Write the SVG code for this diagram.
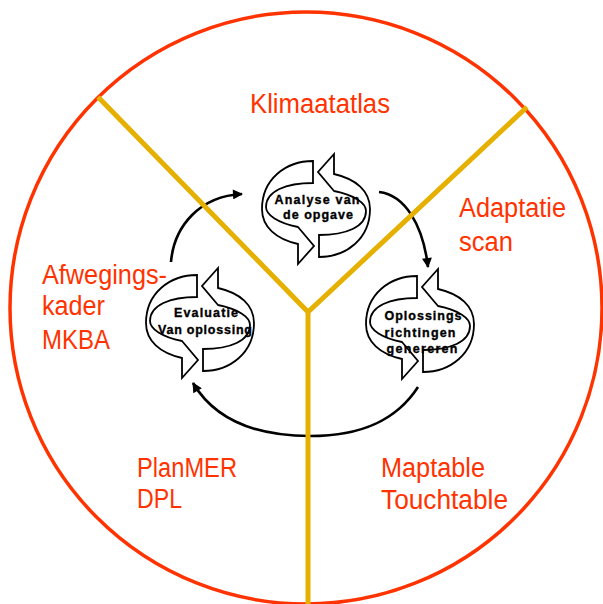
<svg xmlns="http://www.w3.org/2000/svg" width="603" height="604" viewBox="0 0 603 604">
<defs>
<style>
.lbl{font-family:"Liberation Sans",Arial,sans-serif;font-size:27px;fill:#FF3300}
.in{font-family:"Liberation Sans",Arial,sans-serif;font-size:12.5px;font-weight:bold;fill:#000;stroke:#000;stroke-width:0.35;text-anchor:middle}
.arr{fill:#fff;stroke:#000;stroke-width:1.8;stroke-linejoin:miter}
.con{fill:none;stroke:#000;stroke-width:2.6}
.div{stroke:#E6B000;stroke-width:5;fill:none}
</style>
<marker id="ah" markerUnits="userSpaceOnUse" viewBox="0 0 10 10" refX="9" refY="5" markerWidth="11" markerHeight="10" orient="auto"><path d="M0,0 L10,5 L0,10 Z" fill="#000"/></marker>
<path id="half" class="arr" d="M-3,-48 C-30,-48 -54,-30 -54,0 C-54,18 -40,30 -18,35 L-18,55 L-2,37 L-18,18 C-38,14 -50,6 -50,-2 C-50,-18 -30,-26 -3,-26 Z"/>
<g id="cyc">
<use href="#half"/>
<use href="#half" transform="rotate(180)"/>
</g>
</defs>
<rect width="603" height="604" fill="#fff"/>
<circle cx="306" cy="308" r="296" fill="none" stroke="#FF3300" stroke-width="3.5"/>
<g id="connectors">
<path class="con" d="M171,262 C174,226 200,196 242,194" marker-end="url(#ah)"/>
<path class="con" d="M379,192 C405,195 423,225 428,267" marker-end="url(#ah)"/>
<path class="con" d="M418,387 C398,418 365,436 310,436 C255,436 215,420 193,383" marker-end="url(#ah)"/>
</g>
<g id="dividers">
<path class="div" d="M98,97 L308,312 L527,107 M308,312 L308,604"/>
</g>
<g id="node-analyse">
<use href="#cyc" transform="translate(316,209)"/>
<text class="in" x="317" y="204" textLength="85" lengthAdjust="spacing">Analyse van</text>
<text class="in" x="318" y="219" textLength="70" lengthAdjust="spacing">de opgave</text>
</g>
<g id="node-oplossings">
<use href="#cyc" transform="translate(420,324)"/>
<text class="in" x="423" y="320" textLength="77" lengthAdjust="spacing">Oplossings</text>
<text class="in" x="420" y="337" textLength="71" lengthAdjust="spacing">richtingen</text>
<text class="in" x="422" y="353" textLength="71" lengthAdjust="spacing">genereren</text>
</g>
<g id="node-evaluatie">
<use href="#cyc" transform="translate(200,323)"/>
<text class="in" x="206" y="317" textLength="64" lengthAdjust="spacing">Evaluatie</text>
<text class="in" x="205" y="334" textLength="94" lengthAdjust="spacing">Van oplossing</text>
</g>
<g id="labels">
<text class="lbl" x="250" y="113" textLength="140" lengthAdjust="spacingAndGlyphs">Klimaatatlas</text>
<text class="lbl" x="459" y="217" textLength="107" lengthAdjust="spacingAndGlyphs">Adaptatie</text>
<text class="lbl" x="459" y="251" textLength="54" lengthAdjust="spacingAndGlyphs">scan</text>
<text class="lbl" x="42" y="284" textLength="125" lengthAdjust="spacingAndGlyphs">Afwegings-</text>
<text class="lbl" x="42" y="315" textLength="63" lengthAdjust="spacingAndGlyphs">kader</text>
<text class="lbl" x="42" y="349" textLength="68" lengthAdjust="spacingAndGlyphs">MKBA</text>
<text class="lbl" x="137" y="477" textLength="100" lengthAdjust="spacingAndGlyphs">PlanMER</text>
<text class="lbl" x="137" y="508" textLength="45" lengthAdjust="spacingAndGlyphs">DPL</text>
<text class="lbl" x="381" y="477" textLength="104" lengthAdjust="spacingAndGlyphs">Maptable</text>
<text class="lbl" x="381" y="509" textLength="127" lengthAdjust="spacingAndGlyphs">Touchtable</text>
</g>
</svg>
